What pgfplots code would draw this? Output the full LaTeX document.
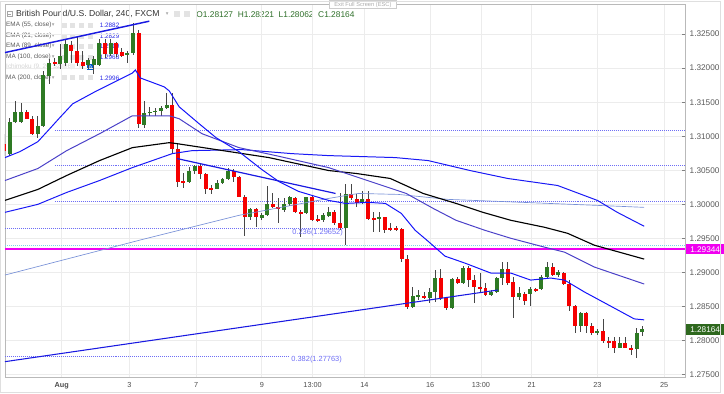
\documentclass[border=0pt]{standalone}
\usepackage{pgfplots}
\pgfplotsset{compat=1.18}
\usepackage{pgfplotstable}
\usepackage{fontspec}
\setmainfont{Liberation Sans}
\newfontfamily\dejavu{DejaVu Sans}
\definecolor{tvgreen}{RGB}{46,122,36}
\definecolor{tvred}{RGB}{245,0,0}
\definecolor{wick}{RGB}{70,70,70}
\definecolor{ema21}{RGB}{20,20,250}
\definecolor{ema55}{RGB}{75,65,200}
\definecolor{ma100}{RGB}{25,25,245}
\definecolor{ma200}{RGB}{120,145,215}
\definecolor{trend}{RGB}{25,25,225}
\definecolor{fibc}{RGB}{110,110,245}
\definecolor{magline}{RGB}{240,0,240}
\definecolor{cyanfib}{RGB}{120,215,230}
\definecolor{lblgray}{RGB}{90,90,90}
\definecolor{valblue}{RGB}{40,40,230}
\definecolor{ohlcgreen}{RGB}{45,110,40}
\definecolor{boxgreen}{RGB}{46,104,30}

\pgfplotstableread{
i o h l c
1 1.30745 1.31272 1.30716 1.31213
2 1.31213 1.31520 1.31200 1.31359
3 1.31213 1.31491 1.31199 1.31359
6 1.31037 1.31301 1.30979 1.31155
7 1.31155 1.31959 1.31140 1.31901
8 1.31886 1.32134 1.31768 1.32076
10 1.32061 1.32353 1.31988 1.32178
11 1.32076 1.32426 1.32032 1.32353
15 1.32046 1.32149 1.31988 1.32120
16 1.32046 1.32178 1.31915 1.32134
17 1.32046 1.32426 1.32030 1.32368
19 1.32207 1.32426 1.32178 1.32368
22 1.32192 1.32251 1.32076 1.32222
23 1.32222 1.32661 1.32192 1.32514
25 1.31170 1.31520 1.31126 1.31345
26 1.31345 1.31432 1.31301 1.31359
27 1.31359 1.31418 1.31301 1.31374
28 1.31374 1.31447 1.31301 1.31418
29 1.31418 1.31637 1.31403 1.31462
33 1.30336 1.30555 1.30321 1.30497
34 1.30497 1.30584 1.30453 1.30570
38 1.30233 1.30365 1.30225 1.30321
39 1.30321 1.30394 1.30306 1.30380
40 1.30380 1.30540 1.30365 1.30497
44 1.29810 1.29941 1.29766 1.29927
46 1.29795 1.29868 1.29766 1.29839
47 1.29839 1.30263 1.29830 1.30000
50 1.29912 1.30102 1.29883 1.30000
51 1.30000 1.30116 1.29971 1.30102
54 1.29868 1.30110 1.29860 1.30102
57 1.29766 1.29868 1.29737 1.29839
58 1.29824 1.29956 1.29810 1.29883
61 1.29649 1.30306 1.29400 1.30146
64 1.30014 1.30204 1.30000 1.30073
67 1.29780 1.29883 1.29590 1.29810
73 1.28494 1.28786 1.28479 1.28655
74 1.28640 1.28742 1.28596 1.28669
76 1.28625 1.28771 1.28552 1.28713
77 1.28713 1.29035 1.28567 1.28918
80 1.28479 1.28918 1.28465 1.28903
82 1.28845 1.29093 1.28830 1.29064
87 1.28669 1.28742 1.28655 1.28713
88 1.28713 1.28932 1.28698 1.28918
89 1.28918 1.29152 1.28815 1.29050
92 1.28640 1.28786 1.28596 1.28698
94 1.28684 1.28786 1.28508 1.28757
96 1.28757 1.28962 1.28742 1.28932
97 1.28932 1.29152 1.28918 1.29079
99 1.28962 1.29035 1.28932 1.29006
103 1.28216 1.28421 1.28128 1.28406
106 1.28113 1.28172 1.28084 1.28142
110 1.27894 1.28055 1.27885 1.27967
113 1.27880 1.28187 1.27748 1.28113
114 1.28127 1.28221 1.28062 1.28164
}\greentab

\pgfplotstableread{
i o h l c
0 1.30891 1.31037 1.30716 1.30789
4 1.31359 1.31389 1.31250 1.31257
5 1.31257 1.31301 1.31023 1.31037
9 1.32090 1.32149 1.32032 1.32061
12 1.32339 1.32397 1.32076 1.32251
13 1.32251 1.32470 1.32032 1.32076
14 1.32090 1.32251 1.31988 1.32032
18 1.32368 1.32426 1.32149 1.32207
20 1.32368 1.32382 1.32163 1.32207
21 1.32236 1.32295 1.32163 1.32178
24 1.32514 1.32558 1.31126 1.31184
30 1.31462 1.31637 1.30760 1.30818
31 1.30818 1.30891 1.30248 1.30336
32 1.30350 1.30467 1.30248 1.30321
35 1.30570 1.30599 1.30380 1.30453
36 1.30453 1.30460 1.30160 1.30219
37 1.30248 1.30292 1.30160 1.30219
41 1.30497 1.30526 1.30336 1.30409
42 1.30409 1.30415 1.30102 1.30116
43 1.30116 1.30131 1.29532 1.29810
45 1.29927 1.29941 1.29663 1.29810
48 1.30000 1.30175 1.29941 1.29956
49 1.29956 1.30087 1.29722 1.29927
52 1.30102 1.30116 1.29868 1.29883
53 1.29883 1.29912 1.29517 1.29854
55 1.30102 1.30116 1.29751 1.29766
56 1.29780 1.29839 1.29737 1.29751
59 1.29883 1.29912 1.29692 1.29722
60 1.29722 1.30160 1.29619 1.29649
62 1.30146 1.30306 1.30058 1.30087
63 1.30073 1.30146 1.29956 1.30014
65 1.30073 1.30204 1.29766 1.29780
66 1.29795 1.29883 1.29590 1.29766
68 1.29810 1.29815 1.29575 1.29619
69 1.29649 1.29722 1.29605 1.29619
70 1.29649 1.29678 1.29605 1.29619
71 1.29634 1.29649 1.29152 1.29196
72 1.29196 1.29254 1.28465 1.28494
75 1.28655 1.28713 1.28615 1.28625
78 1.28918 1.29050 1.28596 1.28625
79 1.28625 1.28640 1.28450 1.28479
81 1.28903 1.28932 1.28830 1.28845
83 1.29064 1.29093 1.28786 1.28888
84 1.28888 1.28962 1.28552 1.28786
85 1.28786 1.28991 1.28713 1.28757
86 1.28771 1.28845 1.28655 1.28669
90 1.29050 1.29152 1.28815 1.28845
91 1.28859 1.28932 1.28333 1.28640
93 1.28684 1.28713 1.28523 1.28581
95 1.28757 1.28771 1.28713 1.28727
98 1.29079 1.29137 1.28947 1.28962
100 1.28991 1.29006 1.28815 1.28830
101 1.28830 1.28888 1.28435 1.28508
102 1.28508 1.28523 1.28113 1.28216
104 1.28406 1.28421 1.28113 1.28216
105 1.28216 1.28260 1.28084 1.28113
107 1.28142 1.28318 1.27967 1.27996
108 1.27996 1.28055 1.27894 1.27967
109 1.27996 1.28055 1.27821 1.27894
111 1.27967 1.28055 1.27885 1.27894
112 1.27894 1.27938 1.27792 1.27865
}\redtab

\newcommand{\lgf}{\fontsize{4.8}{5.5}\selectfont}
\newcommand{\icons}[1]{%
  \foreach \cx in {64.5,72.5,81.5,90.5}{\fill[gray!22] (\cx-2.5,#1-2.5) rectangle (\cx+2.5,#1+2.5);}}
\newcommand{\legrow}[3]{%
  \node[anchor=west,inner sep=0,font=\lgf,text=lblgray] at (6,#1) {#2};
  \node[inner sep=0,font=\dejavu\fontsize{4}{4}\selectfont,text=gray!70] at (53.5,#1) {▾};
  \icons{#1}
  \node[anchor=west,inner sep=0,font=\lgf,text=valblue] at (100,#1) {#3};}

\begin{document}
\begin{tikzpicture}
\begin{scope}[x=0.75pt,y=-0.75pt,shift={(-3.75pt,283.5pt)}]
  \path[use as bounding box] (0,0) rectangle (724,393);
  % title row
  \draw[gray!70,line width=0.4pt] (7,10) rectangle (12.5,15.5);
  \draw[gray!70,line width=0.4pt] (8.5,12.75) -- (11,12.75);
  \node[anchor=west,inner sep=0,font=\fontsize{6.5}{7.5}\selectfont,text=black!80] at (16,13) {British Pound/U.S. Dollar, 240, FXCM};
  \node[inner sep=0,font=\dejavu\fontsize{4}{4}\selectfont,text=gray!70] at (168,13) {▾};
  \fill[gray!22] (175,10) rectangle (181,16);
  \fill[gray!22] (185,10) rectangle (191,16);
  \node[anchor=west,inner sep=0,font=\fontsize{6.3}{7}\selectfont,text=ohlcgreen] at (197,13) {O1.28127\ \ H1.28221\ \ L1.28062\ \ C1.28164};
  % indicator legend
  \legrow{24}{EMA (55, close)}{1.2882}
  \legrow{35}{EMA (21, close)}{1.2829}
  \legrow{45}{EMA (89, close)}{1.2919}
  \legrow{56}{MA (100, close)}{1.2968}
  \node[anchor=west,inner sep=0,font=\lgf,text=gray!35] at (6,66) {Ichimoku (9, 26, 52, 26)};
  \foreach \cx in {64.5,72.5,81.5}{\fill[gray!12] (\cx-2.5,63.5) rectangle (\cx+2.5,68.5);}
  \fill[blue!55!cyan!80!black] (87.5,63) rectangle (93.5,69);
  \draw[white,line width=0.3pt] (90.5,66) circle (1.5);
  \legrow{77}{MA (200, close)}{1.2996}
\end{scope}

\begin{axis}[
  at={(0pt,0pt)}, anchor=south west,
  scale only axis, width=512.25pt, height=281.25pt,
  xmin=-1.696, xmax=18.631, ymin=1.274556, ymax=1.329386,
  clip mode=individual,
  axis line style={draw=gray!55, line width=0.6pt},
  grid=major, major grid style={draw=gray!15, line width=0.6pt},
  xtick={0,2.024,4.018,5.982,7.5,9.048,11.012,12.530,14.048,16.012,18.006},
  xticklabels={\textbf{Aug},3,7,9,13:00,14,16,13:00,21,23,25},
  xtick style={draw=none},
  x tick label style={font=\fontsize{5.5}{6}\selectfont, text=black!70},
  ytick={1.275,1.28,1.285,1.29,1.295,1.3,1.305,1.31,1.315,1.32,1.325},
  ytick pos=right,
  scaled y ticks=false,
  yticklabel={\pgfmathprintnumber[fixed,fixed zerofill,precision=5,assume math mode=true]{\tick}},
  y tick label style={font=\fontsize{6.2}{7}\selectfont, text=black!65},
  ytick style={draw=black!50, line width=0.5pt},
  major tick length=2.5pt,
]
% horizontal levels
\addplot[fibc, line width=0.5pt, dash pattern=on 0.5pt off 1pt, forget plot] coordinates {(-0.208,1.31081) (18.631,1.31081)};
\addplot[fibc, line width=0.5pt, dash pattern=on 0.5pt off 1pt, forget plot] coordinates {(-0.208,1.30570) (18.631,1.30570)};
\addplot[fibc, line width=0.5pt, dash pattern=on 0.5pt off 1pt, forget plot] coordinates {(-0.208,1.30044) (18.631,1.30044)};
\addplot[fibc, line width=0.5pt, dash pattern=on 0.5pt off 1pt, forget plot] coordinates {(-1.696,1.29652) (8.423,1.29652)};
\addplot[fibc, line width=0.5pt, dash pattern=on 0.5pt off 1pt, forget plot] coordinates {(-1.696,1.27763) (6.786,1.27763)};
\addplot[cyanfib, line width=0.5pt, dash pattern=on 0.5pt off 1pt, forget plot] coordinates {(-1.696,1.29400) (18.631,1.29400)};
\addplot[magline, line width=0.8pt, forget plot] coordinates {(-1.696,1.29344) (18.631,1.29344)};

% wicks
\addplot[draw=none, mark=none, forget plot, error bars/.cd, y dir=both, y explicit, error mark=none,
  error bar style={draw=wick, line width=0.6pt}]
  table[x expr={-1.7173+0.16726*\thisrow{i}}, y expr={(\thisrow{h}+\thisrow{l})/2}, y error expr={(\thisrow{h}-\thisrow{l})/2}] {\greentab};
\addplot[draw=none, mark=none, forget plot, error bars/.cd, y dir=both, y explicit, error mark=none,
  error bar style={draw=wick, line width=0.6pt}]
  table[x expr={-1.7173+0.16726*\thisrow{i}}, y expr={(\thisrow{h}+\thisrow{l})/2}, y error expr={(\thisrow{h}-\thisrow{l})/2}] {\redtab};
% bodies
\addplot[draw=none, mark=none, forget plot, error bars/.cd, y dir=both, y explicit, error mark=none,
  error bar style={draw=tvgreen, line width=3pt}]
  table[x expr={-1.7173+0.16726*\thisrow{i}}, y expr={(\thisrow{o}+\thisrow{c})/2}, y error expr={abs(\thisrow{c}-\thisrow{o})/2}] {\greentab};
\addplot[draw=none, mark=none, forget plot, error bars/.cd, y dir=both, y explicit, error mark=none,
  error bar style={draw=tvred, line width=3pt}]
  table[x expr={-1.7173+0.16726*\thisrow{i}}, y expr={(\thisrow{o}+\thisrow{c})/2}, y error expr={abs(\thisrow{c}-\thisrow{o})/2}] {\redtab};

% MA 200
\addplot[ma200, line width=0.5pt, forget plot] coordinates {
(-1.696,1.28962) (2.321,1.29473) (5.298,1.29839) (7.976,1.30087) (8.869,1.30160) (10.060,1.30146)
(11.548,1.30073) (13.036,1.30044) (16.012,1.29985) (17.411,1.29956)};
% MA 100
\addplot[ma100, line width=0.75pt, forget plot] coordinates {
(-1.696,1.29883) (-0.714,1.30000) (0.149,1.30175) (1.131,1.30350) (2.113,1.30540) (3.304,1.30745)
(3.899,1.30789) (5.387,1.30804) (6.875,1.30745) (7.976,1.30716) (9.970,1.30687) (10.952,1.30643)
(12.202,1.30497) (13.333,1.30380) (14.821,1.30277) (16.012,1.30058) (16.607,1.29883) (17.411,1.29678)};
% EMA 89
\addplot[black, line width=0.85pt, forget plot] coordinates {
(-1.696,1.30058) (-0.714,1.30219) (0.149,1.30424) (1.131,1.30643) (2.113,1.30833) (3.214,1.30906)
(3.452,1.30891) (5.208,1.30760) (6.190,1.30687) (7.976,1.30497) (8.810,1.30453) (9.821,1.30380)
(10.804,1.30160) (11.786,1.30014) (12.589,1.29883) (13.423,1.29766) (14.435,1.29663) (15.119,1.29575)
(15.923,1.29400) (17.411,1.29196)};
% EMA 55
\addplot[ema55, line width=0.75pt, forget plot] coordinates {
(-1.696,1.30350) (-0.714,1.30526) (0.149,1.30789) (1.131,1.31037) (2.113,1.31301) (3.214,1.31301)
(3.512,1.31257) (4.196,1.31037) (5.298,1.30833) (6.399,1.30716) (7.976,1.30540) (9.315,1.30321)
(10.298,1.30160) (11.101,1.29941) (11.786,1.29766) (12.649,1.29619) (13.423,1.29502) (14.435,1.29371)
(15.030,1.29298) (15.923,1.29079) (17.411,1.28830)};
% EMA 21
\addplot[ema21, line width=0.75pt, forget plot] coordinates {
(-1.696,1.30687) (-1.250,1.30774) (-0.714,1.30920) (-0.357,1.31111) (-0.060,1.31272) (0.327,1.31476)
(1.042,1.31666) (1.637,1.31812) (2.113,1.31929) (2.202,1.31973) (2.351,1.31856) (3.065,1.31725)
(3.214,1.31666) (3.512,1.31432) (4.107,1.31184) (4.613,1.30979) (5.298,1.30774) (5.982,1.30511)
(6.488,1.30336) (7.083,1.30190) (7.976,1.30058) (8.482,1.30014) (9.167,1.30029) (9.673,1.30014)
(10.149,1.29868) (10.565,1.29619) (10.952,1.29458) (11.458,1.29239) (12.054,1.29137) (12.827,1.28991)
(13.423,1.28991) (14.018,1.28888) (14.613,1.28918) (15.030,1.28888) (15.625,1.28713) (16.399,1.28508)
(17.113,1.28318) (17.411,1.28304)};
% trend lines
\addplot[trend, line width=1.1pt, forget plot] coordinates {(-1.696,1.32229) (2.619,1.32690)};
\addplot[trend, line width=0.9pt, forget plot] coordinates {(3.452,1.30672) (8.185,1.30160)};
\addplot[trend, line width=0.8pt, forget plot] coordinates {(-1.696,1.27690) (13.036,1.28742)};
\end{axis}

\begin{scope}[x=0.75pt,y=-0.75pt,shift={(-3.75pt,283.5pt)}]
  \node[inner sep=0,font=\fontsize{5.6}{6}\selectfont,text=fibc] at (319,232) {0.236(1.29652)};
  \node[inner sep=0,font=\fontsize{5.6}{6}\selectfont,text=fibc] at (318,360) {0.382(1.27763)};
  \node[anchor=west,fill=magline,text=white,inner xsep=3pt,inner ysep=1.5pt,minimum width=27pt,font=\fontsize{6.2}{7}\selectfont] at (689,249) {1.29344};
  \node[anchor=west,fill=boxgreen,text=white,inner xsep=3pt,inner ysep=2pt,minimum width=27pt,font=\fontsize{6.2}{7}\selectfont] at (689,330) {1.28164};
  \draw[gray!40,fill=white,line width=0.4pt] (331,-1) rectangle (398,7.5);
  \node[inner sep=0,font=\fontsize{4.3}{5}\selectfont,text=gray!65] at (364.5,3.3) {Exit Full Screen (ESC)};
  \draw[gray!25,line width=0.5pt] (0.4,0.4) rectangle (723.6,392.6);
\end{scope}
\end{tikzpicture}
\end{document}
